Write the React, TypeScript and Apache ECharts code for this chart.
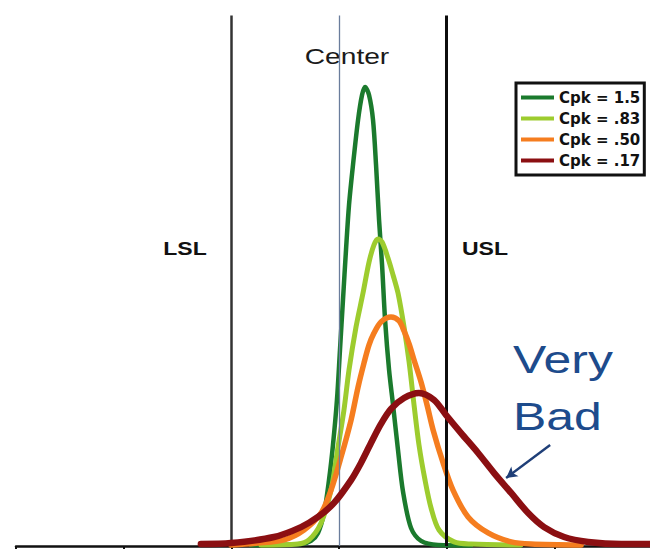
import React, { useEffect, useRef } from "react";
import * as echarts from "echarts";

// Process-capability curves, one per Cpk value: [x, density] pairs
const seriesNames = ["Cpk = 1.5", "Cpk = .83", "Cpk = .50", "Cpk = .17"];

const cpk150: [number, number][] = [
  [-0.818, 0.004], [-0.353, 0.01], [-0.26, 0.026], [-0.195, 0.067], [-0.139, 0.169],
  [-0.093, 0.338], [-0.056, 0.518], [-0.019, 0.749], [0.009, 1.005], [0.037, 1.262],
  [0.065, 1.518], [0.093, 1.749], [0.13, 1.954], [0.177, 2.185], [0.214, 2.313],
  [0.242, 2.354], [0.279, 2.313], [0.316, 2.185], [0.344, 1.954], [0.372, 1.672],
  [0.4, 1.441], [0.428, 1.159], [0.465, 0.903], [0.502, 0.723], [0.548, 0.492],
  [0.595, 0.277], [0.669, 0.092], [0.762, 0.026], [0.92, 0.005], [1.227, 0.003],
];

const cpk083: [number, number][] = [
  [-0.725, 0.005], [-0.381, 0.01], [-0.279, 0.031], [-0.167, 0.118], [-0.074, 0.287],
  [-0.009, 0.508], [0.046, 0.697], [0.093, 0.903], [0.158, 1.123], [0.223, 1.297],
  [0.279, 1.456], [0.325, 1.544], [0.362, 1.574], [0.4, 1.559], [0.455, 1.477],
  [0.502, 1.39], [0.548, 1.297], [0.604, 1.123], [0.651, 0.944], [0.697, 0.723],
  [0.743, 0.518], [0.799, 0.338], [0.855, 0.195], [0.929, 0.082], [1.069, 0.021],
  [1.227, 0.01], [1.691, 0.005],
];

const cpk050: [number, number][] = [
  [-1.004, 0.005], [-0.753, 0.015], [-0.511, 0.031], [-0.325, 0.082], [-0.167, 0.169],
  [-0.074, 0.287], [0.019, 0.456], [0.112, 0.646], [0.177, 0.815], [0.232, 0.938],
  [0.279, 1.031], [0.325, 1.092], [0.39, 1.149], [0.483, 1.174], [0.558, 1.154],
  [0.604, 1.103], [0.651, 1.036], [0.697, 0.954], [0.762, 0.841], [0.818, 0.723],
  [0.874, 0.595], [0.967, 0.426], [1.059, 0.287], [1.199, 0.149], [1.385, 0.067],
  [1.599, 0.021], [1.784, 0.01], [2.249, 0.005],
];

const cpk017: [number, number][] = [
  [-1.283, 0.01], [-1.004, 0.015], [-0.604, 0.046], [-0.353, 0.097], [-0.195, 0.149],
  [-0.046, 0.221], [0.112, 0.338], [0.204, 0.426], [0.297, 0.528], [0.39, 0.626],
  [0.483, 0.703], [0.604, 0.759], [0.743, 0.785], [0.883, 0.749], [0.994, 0.672],
  [1.134, 0.579], [1.292, 0.477], [1.441, 0.374], [1.599, 0.272], [1.757, 0.169],
  [1.905, 0.097], [2.091, 0.046], [2.314, 0.021], [2.621, 0.01], [2.9, 0.01],
];

const curves = [cpk150, cpk083, cpk050, cpk017];
const curveColors = ["#1b7a2d", "#9dcc2e", "#f57d1f", "#8b0f12"];
const curveWidths = [4.5, 5, 5.5, 6.5];

// Specification limits and process centre on the x scale
const LSL = -1;
const CENTER = 0;
const USL = 1;
const LIMIT_TOP = 2.72;

// "Very Bad" pointer, in axis units
const ARROW_FROM: [number, number] = [1.961, 0.518];
const ARROW_TO: [number, number] = [1.552, 0.349];

const ARIAL = '"Liberation Sans", Arial, Helvetica, sans-serif';

export default function App() {
  const ref = useRef<HTMLDivElement>(null);

  useEffect(() => {
    if (!ref.current) return;
    const chart = echarts.init(ref.current, undefined, { renderer: "svg" });

    const limitSeries = {
      name: "limits",
      type: "line",
      data: [],
      z: 1,
      silent: true,
      markLine: {
        silent: true,
        symbol: ["none", "none"],
        label: { show: false },
        emphasis: { disabled: true },
        data: [
          [
            { coord: [LSL, 0], lineStyle: { color: "#333333", width: 2.5, type: "solid" } },
            { coord: [LSL, LIMIT_TOP] },
          ],
          [
            { coord: [USL, 0], lineStyle: { color: "#0d0d0d", width: 3, type: "solid" } },
            { coord: [USL, LIMIT_TOP] },
          ],
          [
            { coord: [CENTER, 0], lineStyle: { color: "#6a7d9c", width: 1.3, type: "solid" } },
            { coord: [CENTER, LIMIT_TOP] },
          ],
          [
            {
              coord: ARROW_FROM,
              symbol: "none",
              lineStyle: { color: "#1f3f78", width: 2.4, type: "solid" },
            },
            { coord: ARROW_TO, symbol: "arrow", symbolSize: [9, 11] },
          ],
        ],
      },
    };

    const curveSeries = curves.map((data, i) => ({
      name: seriesNames[i],
      type: "line",
      data,
      z: 2 + i,
      smooth: 0.3,
      showSymbol: false,
      silent: true,
      color: curveColors[i],
      itemStyle: { color: curveColors[i] },
      lineStyle: { color: curveColors[i], width: curveWidths[i], cap: "round", join: "round" },
    }));

    const option = {
      animation: false,
      backgroundColor: "#ffffff",
      grid: { left: 16, right: -12, top: 0, bottom: 3, outerBoundsMode: "none" },
      xAxis: {
        type: "value",
        min: -3,
        max: 3,
        interval: 1,
        axisLine: { onZero: false, lineStyle: { color: "#111111", width: 2.5 } },
        axisTick: { show: true, length: 10, lineStyle: { color: "#111111", width: 2 } },
        axisLabel: { show: false },
        splitLine: { show: false },
      },
      yAxis: { type: "value", min: 0, max: 2.8, show: false },
      legend: {
        data: seriesNames,
        orient: "vertical",
        left: 516,
        top: 83,
        padding: [7, 4, 7, 5],
        itemGap: 6,
        itemWidth: 33,
        itemHeight: 4,
        icon: "rect",
        selectedMode: false,
        borderColor: "#111111",
        borderWidth: 3,
        backgroundColor: "#ffffff",
        textStyle: { fontFamily: "DejaVu Sans", fontWeight: "bold", fontSize: 15, color: "#111111" },
      },
      graphic: [
        {
          type: "text",
          x: 347,
          y: 56,
          scaleX: 1.28,
          style: {
            text: "Center",
            fontFamily: ARIAL,
            fontSize: 22,
            fill: "#1a1a1a",
            align: "center",
            verticalAlign: "middle",
            textAlign: "center",
            textVerticalAlign: "middle",
          },
        },
        {
          type: "text",
          x: 185,
          y: 248,
          scaleX: 1.28,
          style: {
            text: "LSL",
            fontFamily: ARIAL,
            fontSize: 18,
            fontWeight: "bold",
            fill: "#111111",
            align: "center",
            verticalAlign: "middle",
            textAlign: "center",
            textVerticalAlign: "middle",
          },
        },
        {
          type: "text",
          x: 485,
          y: 248,
          scaleX: 1.28,
          style: {
            text: "USL",
            fontFamily: ARIAL,
            fontSize: 18,
            fontWeight: "bold",
            fill: "#111111",
            align: "center",
            verticalAlign: "middle",
            textAlign: "center",
            textVerticalAlign: "middle",
          },
        },
        {
          type: "text",
          x: 513,
          y: 359,
          scaleX: 1.28,
          style: {
            text: "Very",
            fontFamily: ARIAL,
            fontSize: 39,
            fill: "#1d4b8c",
            align: "left",
            verticalAlign: "middle",
            textAlign: "left",
            textVerticalAlign: "middle",
          },
        },
        {
          type: "text",
          x: 513,
          y: 416,
          scaleX: 1.28,
          style: {
            text: "Bad",
            fontFamily: ARIAL,
            fontSize: 39,
            fill: "#1d4b8c",
            align: "left",
            verticalAlign: "middle",
            textAlign: "left",
            textVerticalAlign: "middle",
          },
        },
      ],
      series: [limitSeries, ...curveSeries],
    };

    chart.setOption(option as any);
    return () => chart.dispose();
  }, []);

  return (
    <div
      ref={ref}
      style={{ position: "fixed", left: 0, top: 0, width: 650, height: 549, background: "#ffffff" }}
    />
  );
}
